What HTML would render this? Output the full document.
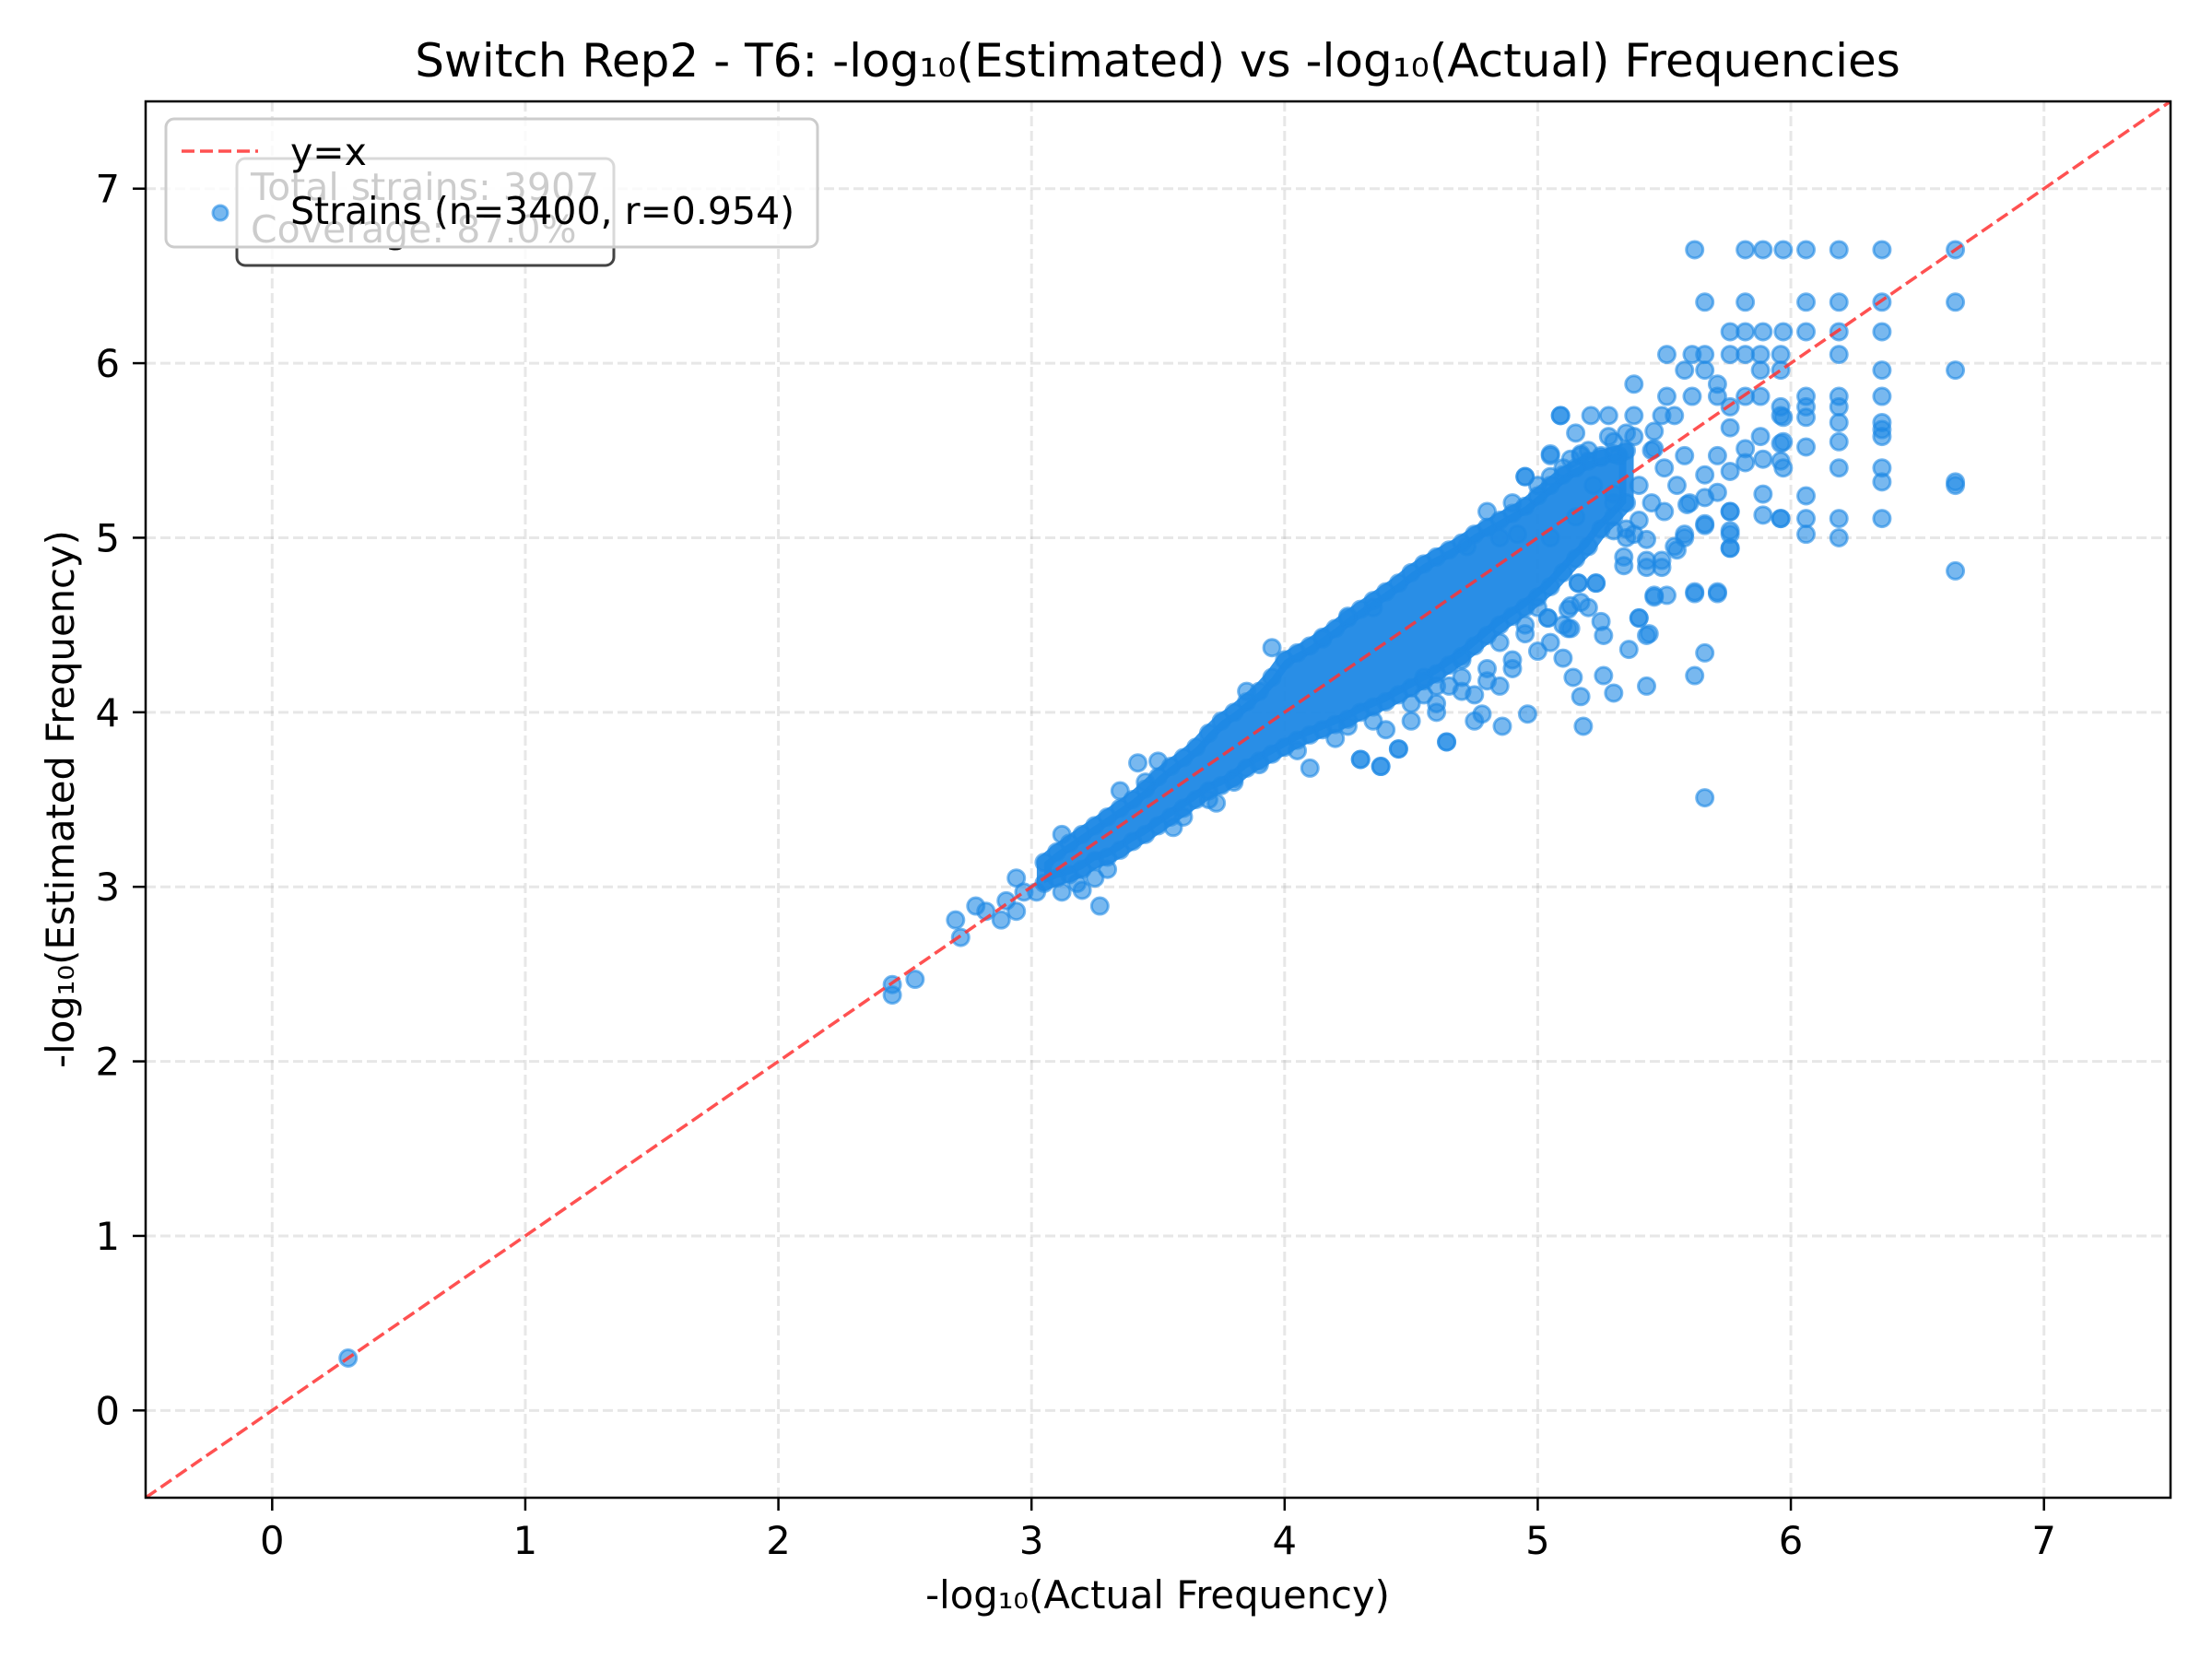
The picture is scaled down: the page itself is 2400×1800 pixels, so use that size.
<!DOCTYPE html>
<html><head><meta charset="utf-8"><style>
html,body{margin:0;padding:0;background:#fff}
svg{display:block}
text{font-family:"DejaVu Sans","Liberation Sans",sans-serif}
</style></head><body>
<svg id="chart" width="2400" height="1800" viewBox="0 0 2400 1800" xmlns="http://www.w3.org/2000/svg">
<rect x="0" y="0" width="2400" height="1800" fill="#fff"/>
<text x="1256" y="83" font-size="50" text-anchor="middle">Switch Rep2 - T6: -log₁₀(Estimated) vs -log₁₀(Actual) Frequencies</text>
<g id="grid"></g>
<defs><clipPath id="clip"><rect x="158" y="110" width="2197" height="1515"/></clipPath></defs>
<g id="marks" clip-path="url(#clip)"></g>
<line id="idline" stroke="#ff3333" stroke-opacity="0.85" stroke-width="3.5" stroke-dasharray="14,6" clip-path="url(#clip)"/>
<rect x="158" y="110" width="2197" height="1515" fill="none" stroke="#000" stroke-width="2.5"/>
<g id="ticks"></g>
<text x="1256" y="1745" font-size="41.7" text-anchor="middle">-log₁₀(Actual Frequency)</text>
<text transform="translate(80,867) rotate(-90)" font-size="41.7" text-anchor="middle">-log₁₀(Estimated Frequency)</text>
<g>
<rect x="257" y="172" width="409" height="116" rx="9" fill="#fff" fill-opacity="0.8" stroke="#444" stroke-width="3"/>
<text x="272" y="217" font-size="41" fill="#000">Total strains: 3907</text>
<text x="272" y="263" font-size="41" fill="#000">Coverage: 87.0%</text>
</g>
<g>
<rect x="180" y="129" width="707" height="139" rx="9" fill="#fff" fill-opacity="0.8" stroke="#cccccc" stroke-width="3"/>
<line x1="197" y1="164" x2="280" y2="164" stroke="#ff3333" stroke-opacity="0.85" stroke-width="3.5" stroke-dasharray="14,6"/>
<text x="315" y="179" font-size="41">y=x</text>
<circle cx="239" cy="231" r="8" fill="#1E88E5" fill-opacity="0.6" stroke="#1E88E5" stroke-opacity="0.6" stroke-width="3"/>
<text x="315" y="243" font-size="41">Strains (n=3400, r=0.954)</text>
</g>
</svg>
<script>
const xTicks=[0,1,2,3,4,5,6,7];
const yTicks=[0,1,2,3,4,5,6,7];
const xDomain=[-0.5,7.5];
const yDomain=[-0.5,7.5];
// dense band of overlapping strains: x, lower edge, upper edge
const bandX=[3.05,3.1,3.15,3.2,3.25,3.3,3.35,3.4,3.45,3.5,3.55,3.6,3.65,3.7,3.75,3.8,3.85,3.9,3.95,4.0,4.05,4.1,4.15,4.2,4.25,4.3,4.35,4.4,4.45,4.5,4.55,4.6,4.65,4.7,4.75,4.8,4.85,4.9,4.95,5.0,5.05,5.1,5.15,5.2,5.25,5.3,5.35];
const bandLo=[3.02,3.05,3.07,3.1,3.15,3.17,3.21,3.26,3.3,3.35,3.4,3.45,3.5,3.55,3.58,3.62,3.68,3.72,3.76,3.8,3.84,3.87,3.9,3.93,3.96,4.0,4.03,4.06,4.1,4.14,4.18,4.22,4.27,4.32,4.38,4.44,4.5,4.55,4.6,4.66,4.72,4.8,4.88,4.95,5.05,5.12,5.2];
const bandHi=[3.14,3.2,3.25,3.3,3.35,3.4,3.45,3.5,3.56,3.63,3.69,3.74,3.8,3.88,3.95,4.0,4.06,4.12,4.2,4.3,4.34,4.38,4.43,4.48,4.54,4.59,4.64,4.69,4.74,4.8,4.85,4.89,4.93,4.97,5.02,5.06,5.1,5.14,5.18,5.24,5.3,5.36,5.4,5.44,5.46,5.48,5.5];
// individually visible strains
const ptX=[0.30,2.45,2.45,2.54,2.70,2.72,2.78,2.82,2.88,2.90,2.94,2.94,2.97,3.02,3.12,3.18,3.27,3.12,3.42,3.56,3.73,3.95,4.30,4.38,4.45,4.64,4.10,
5.66,5.18,4.78,4.86,4.96,4.64,4.38,4.30,4.45,5.43,5.30,5.17,5.26,5.14,5.62,5.66,5.36,5.26,5.44,5.40,5.12,5.04,5.10,5.46,5.62,5.71,5.12,5.23,5.16,5.34,5.43,5.49,5.55,5.58,5.76,5.76,5.66,5.96,5.76,4.95,5.05,5.17,5.09,
5.62,5.82,5.89,5.97,6.06,6.19,6.36,6.65,5.66,5.82,6.06,6.19,6.36,6.65,5.76,5.82,5.89,5.97,6.06,6.19,6.36,5.51,5.61,5.66,5.76,5.82,5.88,5.96,6.19,5.58,5.66,5.88,5.96,6.36,6.65,5.38,5.71,5.51,5.61,5.71,5.82,5.88,6.06,6.19,6.36,5.76,5.96,6.06,6.19,5.09,5.21,5.28,5.38,5.49,5.54,5.96,5.97,6.06,6.19,6.36,
5.28,5.38,5.46,5.76,5.88,5.96,6.36,6.06,5.05,5.13,5.17,5.25,5.32,5.46,5.58,5.71,5.82,5.96,6.36,6.19,5.97,4.95,5.05,5.66,5.76,5.82,6.36,6.06,6.19,5.97,6.65,6.65,6.65,6.36,6.36,6.19,6.19,6.06,6.06,5.89,5.89,5.89,
5.96,5.76,5.66,5.76,5.76,5.59,5.66,5.71,5.58,5.54,5.49,5.43,5.34,5.62,5.71,5.46,5.51,5.40,5.43,5.25,5.13,5.04,5.13,5.17,5.23,5.16,5.38,5.43,5.30,
5.05,4.92,4.85,4.72,4.55,4.6,4.7,4.8,4.9,4.5,4.4,4.65,4.75,4.85,4.95,5.0,5.1,5.2,4.15,4.25,4.35,3.9,3.85,4.05,4.2,3.6,3.7,3.8,3.35,3.45,3.5,3.3,3.25,3.2,5.3,5.35,5.22,5.15,
4.25,4.35,4.5,4.6,4.7,4.8,4.9,4.75,4.55,4.85,4.95,5.0,5.05,4.7,4.6,
4.8,4.9,5.0,5.1,5.2,5.15,5.3,5.35,5.45,5.5,5.55,5.6,5.4,5.45,5.3,5.4,5.5,5.35];
const ptY=[0.30,2.38,2.44,2.47,2.81,2.71,2.89,2.86,2.81,2.92,3.05,2.86,2.97,2.97,2.97,3.02,2.89,3.30,3.71,3.34,3.48,4.37,3.73,3.69,3.79,3.83,3.68,
3.51,3.92,3.99,3.92,3.99,3.83,3.69,3.73,3.79,4.15,4.11,4.09,4.21,4.20,4.21,4.34,4.36,4.44,4.45,4.54,4.48,4.54,4.31,4.66,4.68,4.68,4.59,4.74,4.74,4.84,4.83,4.83,4.93,5.00,4.94,5.02,5.07,5.11,5.15,5.35,5.48,5.48,5.70,
6.65,6.65,6.65,6.65,6.65,6.65,6.65,6.65,6.35,6.35,6.35,6.35,6.35,6.35,6.18,6.18,6.18,6.18,6.18,6.18,6.18,6.05,6.05,6.05,6.05,6.05,6.05,6.05,6.05,5.96,5.96,5.96,5.96,5.96,5.96,5.88,5.88,5.81,5.81,5.81,5.81,5.81,5.81,5.81,5.81,5.75,5.75,5.75,5.75,5.70,5.70,5.70,5.70,5.70,5.70,5.70,5.69,5.69,5.66,5.66,
5.58,5.58,5.61,5.63,5.58,5.54,5.62,5.52,5.47,5.45,5.47,5.47,5.47,5.51,5.47,5.47,5.51,5.44,5.58,5.55,5.55,5.35,5.35,5.36,5.38,5.43,5.40,5.24,5.40,5.40,5.32,5.30,4.81,5.32,5.11,5.11,5.00,5.11,5.02,5.45,5.25,5.13,
5.11,5.15,5.08,5.04,4.94,5.19,5.23,5.26,5.02,4.95,4.87,4.87,4.89,4.69,4.69,4.67,4.67,4.54,4.44,4.52,4.48,4.54,4.61,4.63,4.74,4.74,5.02,4.99,5.04,
5.0,5.02,5.0,4.95,4.1,4.05,4.2,4.25,4.3,3.95,3.9,4.15,4.1,4.15,4.45,4.35,4.5,4.6,4.42,4.55,4.6,3.7,4.12,3.78,3.85,3.4,3.5,3.6,3.55,3.6,3.72,3.1,3.05,2.98,5.2,5.05,5.3,5.12,
3.92,3.95,4.05,4.0,4.12,4.18,4.25,3.95,4.2,4.4,4.5,4.6,4.4,4.3,4.15,
5.15,5.2,5.3,5.4,5.5,5.6,5.55,5.6,5.5,5.4,5.3,5.2,5.3,5.2,5.25,5.1,5.15,5.0];

const L=158,R=2355,T=110,B=1625;
function sx(v){return L+(v-xDomain[0])/(xDomain[1]-xDomain[0])*(R-L);}
function sy(v){return B-(v-yDomain[0])/(yDomain[1]-yDomain[0])*(B-T);}
const NS='http://www.w3.org/2000/svg';
const grid=document.getElementById('grid'),marks=document.getElementById('marks'),ticks=document.getElementById('ticks');
function mk(tag,attrs,parent){const e=document.createElementNS(NS,tag);for(const k in attrs)e.setAttribute(k,attrs[k]);parent.appendChild(e);return e;}
xTicks.forEach(t=>{
  const g=mk('line',{x1:sx(t),x2:sx(t),y1:T,y2:B,stroke:'#b0b0b0','stroke-opacity':'0.3','stroke-width':'3','stroke-dasharray':'11,5'},grid);
  
  
  const tk=mk('line',{x1:sx(t),x2:sx(t),y1:B,y2:B+14,stroke:'#000','stroke-width':'2.5'},ticks);
  
  
  const tx=mk('text',{x:sx(t),y:1686,'font-size':'41.7','text-anchor':'middle'},ticks);
  tx.textContent=String(t);
  
  
});
yTicks.forEach(t=>{
  const g=mk('line',{x1:L,x2:R,y1:sy(t),y2:sy(t),stroke:'#b0b0b0','stroke-opacity':'0.3','stroke-width':'3','stroke-dasharray':'11,5'},grid);
  
  
  const tk=mk('line',{x1:L-14,x2:L,y1:sy(t),y2:sy(t),stroke:'#000','stroke-width':'2.5'},ticks);
  
  
  const tx=mk('text',{x:L-28,y:sy(t)+15,'font-size':'41.7','text-anchor':'end'},ticks);
  tx.textContent=String(t);
  
  
});
let pts=[];
for(let i=0;i<bandX.length;i++)pts.push(sx(bandX[i])+','+sy(bandHi[i]));
for(let i=bandX.length-1;i>=0;i--)pts.push(sx(bandX[i])+','+sy(bandLo[i]));
const band=mk('polygon',{points:pts.join(' '),fill:'#1E88E5','fill-opacity':'0.95',stroke:'#1E88E5','stroke-width':'16','stroke-linejoin':'round','stroke-opacity':'0.9'},marks);


function dot(x,y){
  const c=mk('circle',{cx:sx(x),cy:sy(y),r:9,fill:'#1E88E5','fill-opacity':'0.6',stroke:'#1E88E5','stroke-opacity':'0.6','stroke-width':'3'},marks);
  
  
}
for(let i=0;i<bandX.length;i++){dot(bandX[i],bandLo[i]);dot(bandX[i],bandHi[i]);}
for(let i=0;i<ptX.length;i++)dot(ptX[i],ptY[i]);
const id=document.getElementById('idline');
id.setAttribute('x1',sx(xDomain[0]));id.setAttribute('y1',sy(xDomain[0]));
id.setAttribute('x2',sx(xDomain[1]));id.setAttribute('y2',sy(xDomain[1]));
</script>
</body></html>
